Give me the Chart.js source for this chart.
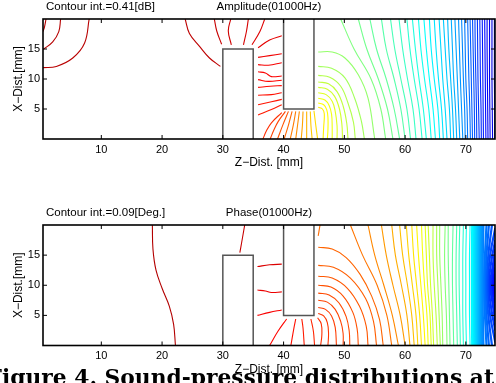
<!DOCTYPE html>
<html>
<head>
<meta charset="utf-8">
<script src="https://cdn.jsdelivr.net/npm/chart.js@4.4.1/dist/chart.umd.min.js"></script>
<style>
html, body { margin: 0; padding: 0; background: #fff; width: 496px; height: 383px; overflow: hidden; }
canvas { position: absolute; left: 0; }
#ampChart { top: 0; }
#phaseChart { top: 190px; }
#cap { top: 355px; z-index: 2; pointer-events: none; }
</style>
</head>
<body>
<canvas id="ampChart" width="496" height="190"></canvas>
<canvas id="phaseChart" width="496" height="193"></canvas>
<canvas id="cap" width="496" height="28"></canvas>
<script>
// axes
const xTicks = [10, 20, 30, 40, 50, 60, 70];
const yTicks = [5, 10, 15];
const xRange = [0.4, 74.8];
const yRange = [0, 20];

// the two blocks in the duct (same for both plots)
const obstacles = [
    [[30, 0], [30, 15], [35, 15], [35, 0]],
    [[40, 20], [40, 5], [45, 5], [45, 20]]
];

const readHeights = [20, 15, 10, 5, 0];

// ---- Amplitude contours (x, y in mm) ----
const ampCorner = [
    [[0.9, 20], [0.65, 18.7], [0.4, 17.9]],
    [[3.3, 20], [3.0, 17.9], [2.0, 16.2], [0.4, 14.9]],
    [[8.0, 20], [7.25, 16.0], [5.3, 13.5], [2.6, 12.1], [0.4, 11.9]],
    [[23.8, 20], [24.5, 17.6], [26.2, 15.4], [27.8, 13.5], [29.6, 12.1]]
];
const ampAbove = [
    [[28.6, 20], [29.0, 18.0], [29.8, 15.8]],
    [[31.3, 20], [30.9, 18.0], [31.4, 15.7]],
    [[34.2, 20], [33.9, 18.0], [33.4, 15.7]],
    [[36.9, 20], [36.1, 17.9], [34.8, 15.7]],
    [[39.7, 17.2], [37.7, 16.5], [35.8, 15.2]]
];
const ampBetween = [
    [[35.8, 13.6], [37.7, 13.9], [39.7, 14.2]],
    [[35.8, 12.4], [37.5, 12.3], [39.7, 12.7]],
    [[35.8, 11.2], [37.0, 11.0], [38.0, 10.4], [39.7, 10.5]],
    [[35.8, 9.9], [37.5, 9.6], [39.7, 9.8]],
    [[35.8, 8.6], [37.8, 8.8], [39.7, 8.9]],
    [[35.8, 7.3], [38.0, 7.4], [39.7, 7.7]],
    [[35.8, 5.7], [38.0, 6.2], [39.7, 6.6]],
    [[35.8, 4.0], [38.0, 4.9], [39.7, 5.7]]
];
const ampFan = [
    [[36.6, 0], [37.2, 1.4], [38.0, 2.7], [39.7, 4.4]],
    [[37.8, 0], [38.4, 1.5], [39.1, 2.9], [40.3, 4.6]],
    [[39.0, 0], [39.9, 2.4], [40.8, 4.6]],
    [[40.1, 0], [40.8, 2.3], [41.4, 4.6]],
    [[41.1, 0], [41.6, 2.3], [42.0, 4.6]],
    [[42.0, 0], [42.3, 2.3], [42.6, 4.6]],
    [[42.9, 0], [43.1, 2.3], [43.2, 4.6]],
    [[43.8, 0], [43.8, 2.3], [43.8, 4.6]],
    [[44.7, 0], [44.5, 2.3], [44.4, 4.6]],
    [[45.6, 0], [45.3, 2.3], [45.0, 4.7]]
];
const ampArcs = [
    [[45.7, 5.3], [46.4, 5.0], [46.7, 4.2], [46.6, 2.0], [46.5, 0]],
    [[45.7, 6.0], [46.6, 5.7], [47.1, 4.9], [47.3, 3.6], [47.3, 1.5], [47.2, 0]],
    [[45.7, 6.8], [46.8, 6.5], [47.5, 5.6], [47.9, 4.1], [48.0, 2.0], [48.0, 0]],
    [[45.7, 7.7], [47.0, 7.4], [48.0, 6.3], [48.5, 4.6], [48.8, 2.2], [48.8, 0]],
    [[45.7, 8.6], [47.2, 8.3], [48.4, 7.1], [49.2, 5.0], [49.6, 2.4], [49.7, 0]],
    [[45.7, 9.5], [47.4, 9.2], [48.8, 7.9], [49.8, 5.5], [50.4, 2.6], [50.6, 0]],
    [[45.7, 10.6], [47.6, 10.3], [49.4, 8.8], [50.6, 6.0], [51.5, 2.8], [51.8, 0]],
    [[45.7, 12.1], [47.9, 11.8], [50.1, 10.2], [51.7, 6.8], [52.8, 3.0], [53.3, 0]],
    [[45.7, 14.5], [48.0, 14.5], [50.1, 13.5], [52.3, 10.7], [53.9, 6.8], [55.0, 0]]
];
// x at y = 20, 15, 10, 5, 0
const ampRight = [
    [49.4, 51.6, 54.4, 56.0, 56.8],
    [52.3, 53.7, 55.6, 57.1, 58.0],
    [54.2, 55.3, 56.9, 58.2, 59.1],
    [56.1, 56.9, 58.2, 59.3, 60.0],
    [57.6, 58.3, 59.3, 60.3, 60.9],
    [59.0, 59.6, 60.4, 61.3, 61.8],
    [60.3, 60.8, 61.5, 62.3, 62.8],
    [61.2, 61.7, 62.3, 63.0, 63.5],
    [62.2, 62.6, 63.2, 63.9, 64.3],
    [63.1, 63.5, 64.0, 64.6, 65.0],
    [64.0, 64.3, 64.8, 65.4, 65.7],
    [64.8, 65.1, 65.5, 66.0, 66.3],
    [65.6, 65.9, 66.2, 66.6, 66.9],
    [66.3, 66.6, 66.9, 67.3, 67.5],
    [67.0, 67.2, 67.5, 67.8, 68.0],
    [67.6, 67.8, 68.0, 68.3, 68.5],
    [68.2, 68.4, 68.6, 68.8, 69.0],
    [68.8, 68.95, 69.1, 69.3, 69.5],
    [69.3, 69.45, 69.6, 69.8, 69.9],
    [69.8, 69.9, 70.0, 70.2, 70.3],
    [70.3, 70.4, 70.5, 70.65, 70.75],
    [70.7, 70.8, 70.9, 71.0, 71.1],
    [71.1, 71.2, 71.3, 71.4, 71.45],
    [71.5, 71.55, 71.65, 71.75, 71.8],
    [71.9, 71.95, 72.0, 72.1, 72.2],
    [72.3, 72.35, 72.4, 72.5, 72.55],
    [72.7, 72.75, 72.8, 72.85, 72.9],
    [73.1, 73.15, 73.2, 73.25, 73.3],
    [73.5, 73.5, 73.55, 73.6, 73.65],
    [73.9, 73.9, 73.9, 73.95, 74.0],
    [74.3, 74.3, 74.3, 74.35, 74.4],
    [74.7, 74.7, 74.7, 74.75, 74.75]
];

// ---- Phase contours ----
const phaseLeft = [
    [[18.4, 20], [18.5, 16.0], [19.0, 12.5], [20.0, 9.5], [21.2, 6.5], [21.9, 3.5], [22.2, 0]],
    [[33.6, 20], [33.1, 17.1], [32.8, 15.4]]
];
const phaseBetween = [
    [[35.7, 13.1], [37.7, 13.4], [39.7, 13.5]],
    [[35.7, 9.2], [37.0, 9.05], [38.0, 8.8], [39.7, 8.9]],
    [[35.7, 5.0], [37.7, 5.5], [39.7, 5.9]]
];
const phaseFan = [
    [[37.7, 0], [39.1, 2.4], [40.5, 4.4]],
    [[41.2, 0], [41.7, 2.9], [42.0, 4.4]],
    [[43.4, 0], [43.2, 2.9], [43.0, 4.4]],
    [[45.1, 0], [44.9, 2.4], [44.5, 4.4]]
];
const phaseArcs = [
    [[45.6, 4.6], [46.2, 3.6], [46.3, 1.8], [46.1, 0]],
    [[45.7, 5.3], [46.6, 4.9], [47.2, 3.8], [47.4, 2.0], [47.3, 0]],
    [[45.7, 6.3], [46.9, 6.0], [47.9, 4.9], [48.5, 3.0], [48.7, 0]],
    [[45.7, 7.5], [47.2, 7.2], [48.5, 6.0], [49.4, 4.0], [49.8, 2.0], [49.8, 0]],
    [[45.7, 8.7], [47.5, 8.4], [49.1, 7.1], [50.3, 4.8], [50.8, 2.4], [50.9, 0]],
    [[45.7, 10.0], [47.8, 9.7], [49.8, 8.2], [51.4, 5.5], [52.1, 2.8], [52.3, 0]],
    [[45.7, 11.5], [48.0, 11.2], [50.5, 9.5], [52.5, 6.5], [53.6, 3.2], [53.9, 0]],
    [[45.7, 13.3], [48.2, 13.0], [51.0, 11.2], [53.5, 7.8], [54.8, 4.0], [55.3, 0]],
    [[45.7, 16.3], [48.0, 16.0], [50.3, 14.6], [52.6, 11.8], [54.5, 8.2], [55.8, 4.3], [56.4, 0]],
    [[46.0, 20], [45.7, 18.2]]
];
// x at y = 20, 15, 10, 5, 0
const phaseRight = [
    [51.0, 53.0, 55.4, 57.0, 57.8],
    [53.9, 55.0, 56.5, 57.9, 58.9],
    [56.1, 56.9, 58.0, 59.2, 60.0],
    [57.8, 58.4, 59.4, 60.3, 60.8],
    [59.1, 59.6, 60.4, 61.1, 61.5],
    [60.2, 60.6, 61.2, 61.8, 62.1],
    [61.1, 61.4, 61.9, 62.4, 62.7],
    [61.9, 62.2, 62.6, 63.0, 63.3],
    [62.7, 62.9, 63.2, 63.6, 63.8],
    [63.3, 63.5, 63.7, 64.1, 64.3],
    [63.8, 64.0, 64.2, 64.5, 64.7],
    [64.6, 64.6, 64.8, 65.1, 65.3],
    [65.2, 65.2, 65.4, 65.6, 65.8],
    [65.7, 65.7, 65.9, 66.1, 66.2],
    [66.6, 66.5, 66.6, 66.8, 66.9],
    [67.1, 67.1, 67.2, 67.3, 67.4],
    [67.9, 67.8, 67.8, 67.9, 68.0],
    [68.5, 68.4, 68.4, 68.5, 68.6],
    [69.0, 68.9, 68.9, 69.0, 69.1],
    [69.6, 69.5, 69.5, 69.5, 69.6],
    [70.1, 70.0, 70.0, 70.0, 70.1],
    [70.7, 70.6, 70.6, 70.6, 70.7]
];
// the packed blue band at the outlet
const phaseBand = [
    [71.05, 71.0, 71.0, 71.0, 71.05],
    [71.25, 71.2, 71.2, 71.2, 71.25],
    [71.45, 71.4, 71.4, 71.4, 71.45],
    [71.65, 71.6, 71.6, 71.6, 71.65],
    [71.85, 71.8, 71.8, 71.8, 71.85],
    [72.05, 72.0, 72.0, 72.0, 72.05],
    [72.25, 72.2, 72.2, 72.2, 72.25],
    [72.45, 72.4, 72.4, 72.4, 72.45],
    [72.65, 72.6, 72.6, 72.6, 72.65],
    [72.9, 72.8, 72.8, 72.8, 72.9]
];
const phaseRings = [
    [[73.4, 20], [73.15, 15], [73.0, 10], [73.15, 5], [73.4, 0]],
    [[73.8, 20], [73.4, 15], [73.2, 10], [73.4, 5], [73.8, 0]],
    [[74.3, 20], [73.7, 15], [73.4, 10], [73.7, 5], [74.3, 0]],
    [[74.85, 19.5], [74.0, 15], [73.6, 10], [74.0, 5], [74.85, 0.5]],
    [[74.85, 17.5], [74.2, 14], [73.8, 10], [74.2, 6], [74.85, 2.5]],
    [[74.85, 16], [74.4, 13], [74.0, 10], [74.4, 7], [74.85, 4]],
    [[74.85, 14.5], [74.5, 12.5], [74.2, 10], [74.5, 7.5], [74.85, 5.5]],
    [[74.85, 13], [74.6, 11.5], [74.4, 10], [74.6, 8.5], [74.85, 7]],
    [[74.85, 11.5], [74.6, 10], [74.85, 8.5]]
];

const captionText = "Figure 4. Sound-pressure distributions at";

Chart.defaults.font.family = "'Liberation Sans', Arial, sans-serif";
Chart.defaults.color = "#000";

// matlab "jet" colormap
function jet(t) {
    const c = v => Math.round(255 * Math.max(0, Math.min(1, v)));
    return "rgb(" + c(1.5 - Math.abs(4 * t - 3)) + "," + c(1.5 - Math.abs(4 * t - 2)) + "," + c(1.5 - Math.abs(4 * t - 1)) + ")";
}

function fromRows(list) {
    return list.map(r => r.map((x, i) => [x, readHeights[i]]));
}

function lineSet(points, color, width, tension) {
    return {
        data: points.map(p => ({ x: p[0], y: p[1] })),
        borderColor: color,
        borderWidth: width,
        showLine: true,
        pointRadius: 0,
        tension: tension,
        fill: false
    };
}

// colour a group of contours along the colormap, first line at tFrom
function group(lines, tFrom, tTo, width) {
    return lines.map((l, i) => {
        const t = lines.length > 1 ? tFrom + (tTo - tFrom) * i / (lines.length - 1) : tFrom;
        return lineSet(l, jet(t), width || 1.1, 0.4);
    });
}

// frame, inward ticks and the two headings
const framePlugin = {
    id: "frame",
    afterDatasetsDraw(chart, args, opts) {
        const { ctx, chartArea: a, scales: { x, y } } = chart;
        ctx.save();
        ctx.strokeStyle = "#000";
        ctx.lineWidth = 1;
        ctx.beginPath();
        xTicks.forEach(v => {
            const px = x.getPixelForValue(v);
            ctx.moveTo(px, a.bottom); ctx.lineTo(px, a.bottom - 4);
            ctx.moveTo(px, a.top); ctx.lineTo(px, a.top + 4);
        });
        yTicks.forEach(v => {
            const py = y.getPixelForValue(v);
            ctx.moveTo(a.left, py); ctx.lineTo(a.left + 4, py);
            ctx.moveTo(a.right, py); ctx.lineTo(a.right - 4, py);
        });
        ctx.stroke();
        ctx.lineWidth = 1.6;
        ctx.strokeRect(a.left, a.top, a.right - a.left, a.bottom - a.top);

        ctx.fillStyle = "#000";
        ctx.font = "11.5px 'Liberation Sans', Arial, sans-serif";
        ctx.textBaseline = "middle";
        ctx.textAlign = "left";
        ctx.fillText(opts.left, a.left + 3, a.top - 12.5);
        ctx.textAlign = "center";
        ctx.fillText(opts.center, (a.left + a.right) / 2, a.top - 12.5);
        ctx.restore();
    }
};

function makeChart(id, datasets, heads, padTop, axisHeight, xTitlePad) {
    new Chart(document.getElementById(id), {
        type: "scatter",
        data: { datasets: datasets },
        options: {
            responsive: false,
            animation: false,
            layout: { padding: { top: padTop, left: 0, right: 1, bottom: 0 } },
            plugins: {
                legend: { display: false },
                tooltip: { enabled: false },
                frame: heads
            },
            scales: {
                x: {
                    type: "linear",
                    min: xRange[0],
                    max: xRange[1],
                    grid: { display: false, drawTicks: false },
                    border: { display: false },
                    ticks: { font: { size: 11 }, padding: 4, autoSkip: false, maxRotation: 0 },
                    afterBuildTicks: s => { s.ticks = xTicks.map(v => ({ value: v })); },
                    afterFit: s => { s.height = axisHeight; },
                    title: { display: true, text: "Z\u2212Dist. [mm]", font: { size: 12 }, padding: { top: 0, bottom: xTitlePad } }
                },
                y: {
                    type: "linear",
                    min: yRange[0],
                    max: yRange[1],
                    grid: { display: false, drawTicks: false },
                    border: { display: false },
                    ticks: { font: { size: 11 }, padding: 3, autoSkip: false },
                    afterBuildTicks: s => { s.ticks = yTicks.map(v => ({ value: v })); },
                    afterFit: s => { s.width = 43; },
                    title: { display: true, text: "X\u2212Dist.[mm]", font: { size: 12 }, padding: { top: 11, bottom: 0 } }
                }
            }
        },
        plugins: [framePlugin]
    });
}

const blocks = obstacles.map(o => lineSet(o, "#555", 1.5, 0));

const ampSets = blocks.concat(
    group(ampCorner, 0.95, 0.94),
    group(ampAbove, 0.93, 0.9),
    group(ampBetween, 0.89, 0.85),
    group(ampFan, 0.83, 0.66),
    group(ampArcs, 0.64, 0.52),
    group(fromRows(ampRight), 0.5, 0.08)
);

const phaseSets = blocks.concat(
    group(phaseLeft, 0.95, 0.93),
    group(phaseBetween, 0.91, 0.88),
    group(phaseFan, 0.87, 0.84),
    group(phaseArcs, 0.83, 0.77),
    group(fromRows(phaseRight), 0.76, 0.38),
    group(fromRows(phaseBand), 0.37, 0.25, 2.2),
    group(phaseRings, 0.24, 0.12, 2.2)
);

makeChart("ampChart", ampSets, { left: "Contour int.=0.41[dB]", center: "Amplitude(01000Hz)" }, 19, 51, 20);
makeChart("phaseChart", phaseSets, { left: "Contour int.=0.09[Deg.]", center: "Phase(01000Hz)" }, 35, 37.5, 6);

// caption of the page the figure was cut from
const cap = document.getElementById("cap").getContext("2d");
cap.font = "bold 22px 'DejaVu Serif'";
cap.fillStyle = "#000";
const fullW = cap.measureText(captionText).width;
const fW = cap.measureText("F").width;
const sx = (494 - 2) / (fullW - fW);
cap.setTransform(sx, 0, 0, 1, 2 - fW * sx, 0);
cap.fillText(captionText, 0, 30);
</script>
</body>
</html>
